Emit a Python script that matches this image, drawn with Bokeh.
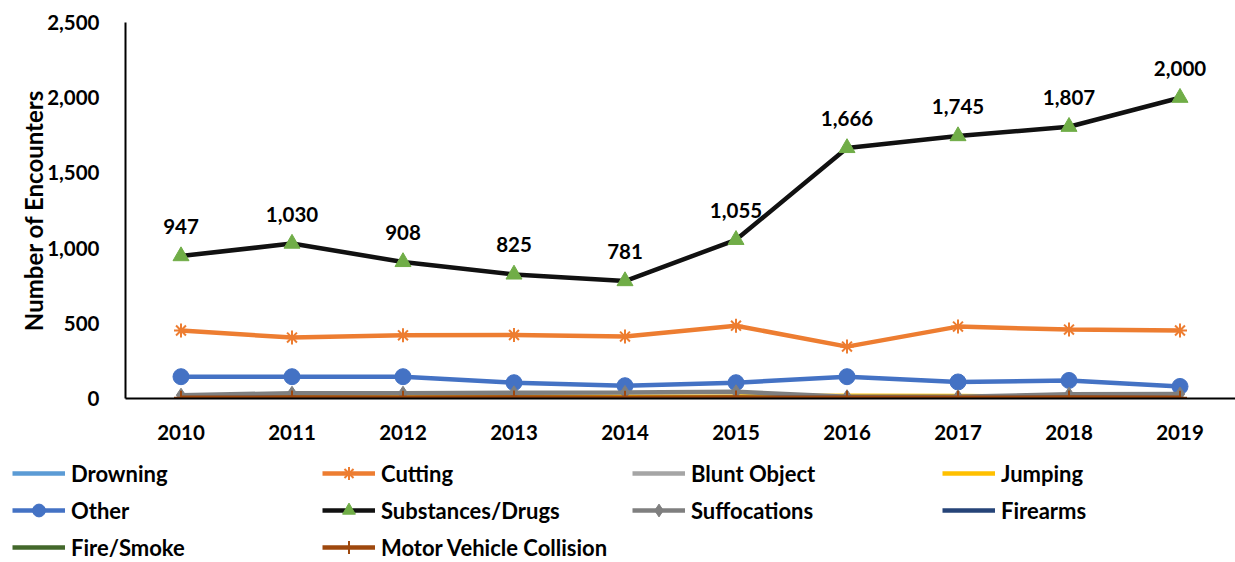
from bokeh.plotting import figure
from bokeh.layouts import column
from bokeh.models import (FactorRange, Range1d, NumeralTickFormatter, Legend,
                          LegendItem, ColumnDataSource, LabelSet)
from bokeh.core.properties import value
from bokeh.embed import file_html
from bokeh.resources import INLINE

years = ["2010", "2011", "2012", "2013", "2014", "2015", "2016", "2017", "2018", "2019"]

drowning = [3, 2, 4, 3, 2, 3, 2, 2, 3, 2]
cutting = [452, 405, 420, 422, 412, 484, 345, 478, 458, 452]
blunt_object = [8, 10, 9, 10, 8, 9, 8, 8, 10, 9]
jumping = [10, 12, 10, 11, 12, 14, 18, 16, 12, 10]
other = [145, 145, 145, 105, 85, 105, 145, 110, 120, 80]
substances = [947, 1030, 908, 825, 781, 1055, 1666, 1745, 1807, 2000]
suffocations = [22, 35, 35, 38, 40, 45, 12, 12, 28, 30]
firearms = [2, 3, 2, 3, 2, 3, 3, 2, 3, 2]
fire_smoke = [1, 2, 1, 1, 2, 1, 1, 2, 1, 1]
motor_vehicle = [5, 6, 5, 6, 5, 6, 5, 5, 6, 5]

FONT = "Lato"
FS = "20.5px"

p = figure(x_range=FactorRange(*years), y_range=(0, 2500),
           width=1235, height=450, output_backend="svg", toolbar_location=None,
           min_border_left=125, min_border_right=0, min_border_top=22,
           min_border_bottom=52)
p.frame_align = False
p.outline_line_color = None
p.xgrid.grid_line_color = None
p.ygrid.grid_line_color = None

for ax in (p.xaxis, p.yaxis):
    ax.axis_line_color = "black"
    ax.axis_line_width = 2
    ax.major_tick_line_color = None
    ax.minor_tick_line_color = None
    ax.major_label_text_font = FONT
    ax.major_label_text_font_style = "bold"
    ax.major_label_text_font_size = FS
    ax.major_label_text_color = "black"

p.yaxis.ticker = [0, 500, 1000, 1500, 2000, 2500]
p.yaxis.formatter = NumeralTickFormatter(format="0,0")
p.yaxis.major_label_standoff = 20
p.yaxis.axis_label = "Number of Encounters"
p.yaxis.axis_label_text_font = FONT
p.yaxis.axis_label_text_font_style = "bold"
p.yaxis.axis_label_text_font_size = "24px"
p.yaxis.axis_label_text_color = "black"
p.yaxis.axis_label_standoff = -4
p.xaxis.major_label_standoff = 20

series = [
    ("Drowning", drowning, "#5B9BD5", None, 0),
    ("Cutting", cutting, "#ED7D31", "asterisk", 14),
    ("Blunt Object", blunt_object, "#A5A5A5", None, 0),
    ("Jumping", jumping, "#FFC000", None, 0),
    ("Other", other, "#4472C4", "circle", 16),
    ("Substances/Drugs", substances, "#111111", "triangle", 16),
    ("Suffocations", suffocations, "#7F7F7F", "diamond", 14),
    ("Firearms", firearms, "#264478", None, 0),
    ("Fire/Smoke", fire_smoke, "#43682B", None, 0),
    ("Motor Vehicle Collision", motor_vehicle, "#9E480E", "cross", 14),
]

# strip underneath the chart that carries only the legend; its y range sits
# below zero so the series drawn here stay out of sight
leg_fig = figure(width=1235, height=112, output_backend="svg", toolbar_location=None,
                 x_range=FactorRange(*years), y_range=Range1d(-2, -1),
                 x_axis_location=None, y_axis_location=None,
                 min_border=0, min_border_left=0, min_border_right=0,
                 min_border_top=0, min_border_bottom=0)
leg_fig.frame_align = False
leg_fig.grid.visible = False
leg_fig.outline_line_color = None


def draw(fig, src, color, marker, size, fill):
    rs = [fig.line("x", "y", source=src, line_color=color, line_width=4.5)]
    if marker:
        if marker in ("asterisk", "cross"):
            rs.append(fig.scatter("x", "y", source=src, marker=marker, size=size,
                                  line_color=color, line_width=2))
        else:
            rs.append(fig.scatter("x", "y", source=src, marker=marker, size=size,
                                  fill_color=fill, line_color=fill))
    return rs


items = []
for name, vals, color, marker, size in series:
    fill = "#70AD47" if name == "Substances/Drugs" else color
    src = ColumnDataSource(dict(x=years, y=vals))
    draw(p, src, color, marker, size, fill)
    rs = draw(leg_fig, src, color, marker, size, fill)
    items.append(LegendItem(label=name, renderers=rs))

# value labels above the Substances/Drugs points
lab_src = ColumnDataSource(dict(x=years, y=substances,
                                t=["{:,}".format(v) for v in substances]))
p.add_layout(LabelSet(x="x", y="y", text="t", source=lab_src, y_offset=22,
                      text_align="center", text_baseline="bottom",
                      text_font=value(FONT), text_font_style="bold",
                      text_font_size=FS, text_color="black"))

legend = Legend(items=items, orientation="horizontal", ncols=4,
                location=(12, -1))
legend.glyph_width = 53
legend.glyph_height = 32
legend.label_height = 32
legend.label_standoff = 6
legend.label_width = 246
legend.spacing = 5
legend.padding = 0
legend.margin = 0
legend.border_line_color = None
legend.background_fill_alpha = 0
legend.label_text_font = FONT
legend.label_text_font_style = "bold"
legend.label_text_font_size = "22px"
legend.label_text_color = "black"
leg_fig.add_layout(legend, "center")

layout = column(p, leg_fig, spacing=0)
open("out.html", "w").write(file_html(layout, INLINE))
